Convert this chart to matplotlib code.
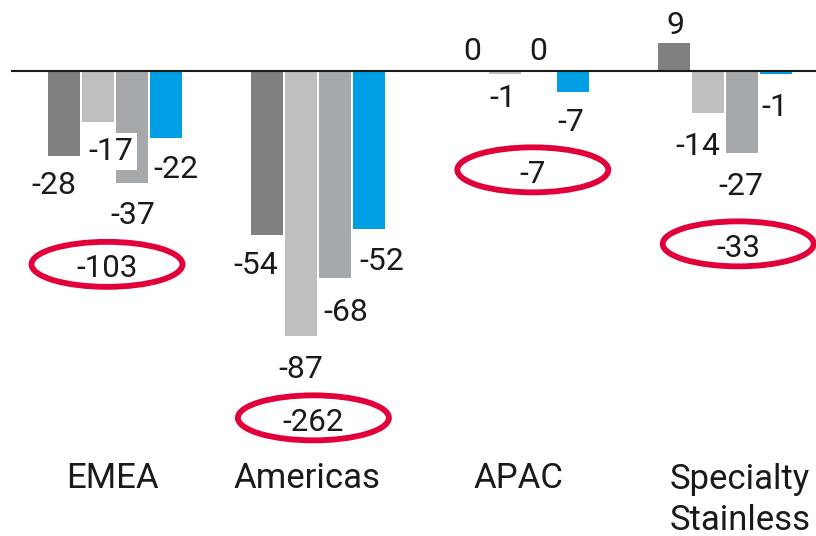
import matplotlib
matplotlib.use('Agg')
import matplotlib.pyplot as plt
from matplotlib.patches import Ellipse
from matplotlib.transforms import IdentityTransform

# ---------------- data ----------------
categories = ['EMEA', 'Americas', 'APAC', 'Specialty\nStainless']
series_dark = [-28, -54, 0, 9]
series_light = [-17, -87, -1, -14]
series_mid = [-37, -68, 0, -27]
series_blue = [-22, -52, -7, -1]
totals = [-103, -262, -7, -33]

# ---------------- layout / style ----------------
W, H, DPI = 816, 536, 100
GROUP_PX = 203.4          # pixels per category
UNIT_PX = 3.05            # pixels per value unit
ZERO_Y = 70.5             # zero line, px from top
FIRST_CENTER = 115        # first group centre, px from left

colors = ['#808080', '#bfbfbf', '#a6a9ac', '#009fe3']
text_color = '#1a1a1a'
ring_color = '#e2003a'
font = ['Roboto', 'DejaVu Sans']
plt.rcParams['font.family'] = font
WEIGHT = 'normal'

series = [series_dark, series_light, series_mid, series_blue]
bar_w = 32 / GROUP_PX
bar_pitch = 34 / GROUP_PX

# label offsets in px: (dx, dy down from bar end to label centre)
label_off = [
    [(-10, 27), (-12, 27.5), (1, -22), (1, -21)],
    [(13, 26), (-1, 31), (-2, 22), (-10, 30)],
    [(1, 29), (10, 32), (-1, -22), (-1, 31)],
    [(10, 29), (12, 29), (-1.5, 27.5), (-1, 31)],
]
# ellipse: (dx from group centre, px below lowest bar end)
ring_off = [(-8, 81), (-5, 82), (11, 78), (13, 91)]
# category label dx
cat_dx = [-3, -11, -3, 15]

fig = plt.figure(figsize=(W / DPI, H / DPI), dpi=DPI)
ax = fig.add_axes([0, 0, 1, 1])
ax.axis('off')
ax.set_xlim(-FIRST_CENTER / GROUP_PX, (W - FIRST_CENTER) / GROUP_PX)
ax.set_ylim(-(H - ZERO_Y) / UNIT_PX, ZERO_Y / UNIT_PX)

x = list(range(len(categories)))
LABEL_FS = 23
CAP = 23  # approx digit height px

for si, vals in enumerate(series):
    xs = [g + (si - 1.5) * bar_pitch for g in x]
    ax.bar(xs, vals, width=bar_w, color=colors[si], zorder=2, linewidth=0)
    for gi, (xx, v) in enumerate(zip(xs, vals)):
        dx, dy = label_off[si][gi]
        ax.annotate(f'{v}', xy=(xx, v), xytext=(dx, -(dy + CAP / 2)),
                    textcoords='offset pixels', ha='center', va='baseline',
                    fontsize=LABEL_FS, color=text_color, zorder=4, fontweight=WEIGHT,
                    bbox=dict(boxstyle='square,pad=0.12', fc='white', ec='none'))

ax.axhline(0, xmin=12 / W, xmax=1, color=text_color, lw=1.5, zorder=5)

# totals in red rings
for gi, tot in enumerate(totals):
    lowest = min(s[gi] for s in series)
    px, py = ax.transData.transform((x[gi], min(lowest, 0)))
    dx, dy = ring_off[gi]
    cx, cy = px + dx, py - dy
    ax.add_patch(Ellipse((cx, cy), 151, 45, transform=IdentityTransform(),
                         fill=False, ec=ring_color, lw=4.2, zorder=6))
    fig.text(cx / W, (cy - 2 - 21.5 / 2) / H, f'{tot}', ha='center', va='baseline',
             fontsize=22.5, color=text_color, zorder=7, fontweight=WEIGHT)

# category labels
for gi, cat in enumerate(categories):
    px, _ = ax.transData.transform((x[gi], 0))
    for li, line in enumerate(cat.split('\n')):
        base_top = 488.5 + li * 41.5
        fig.text((px + cat_dx[gi]) / W, 1 - base_top / H, line, ha='center',
                 va='baseline', fontsize=25, color=text_color, fontweight=WEIGHT)

fig.savefig('out.png', dpi=DPI)
